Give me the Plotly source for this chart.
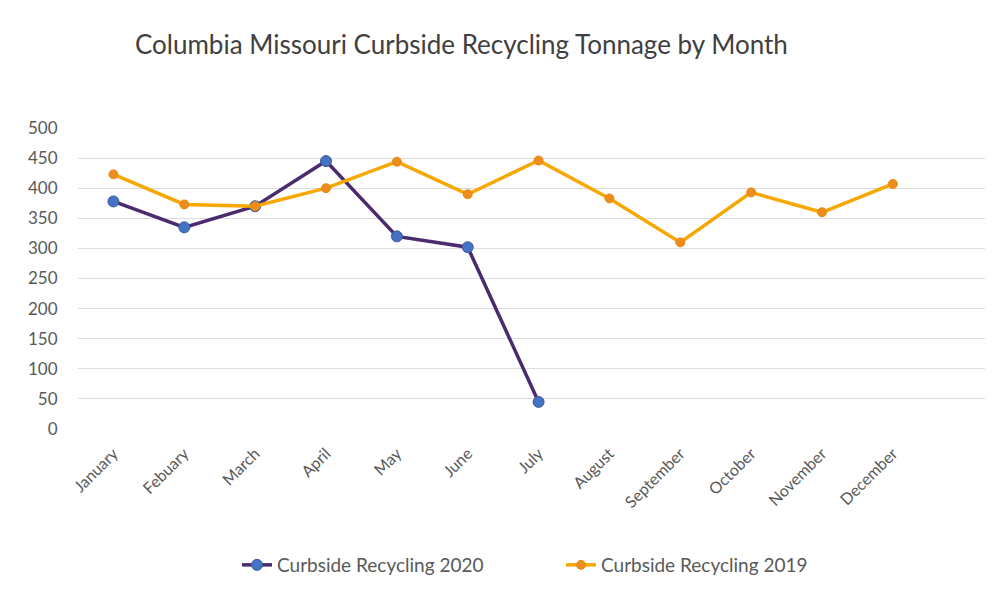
import plotly.graph_objects as go

months = ["January", "Febuary", "March", "April", "May", "June", "July",
          "August", "September", "October", "November", "December"]
recycling_2020 = [378, 335, 370, 445, 320, 302, 45]
recycling_2019 = [423, 373, 370, 400, 444, 390, 446, 383, 310, 393, 360, 407]
y_ticks = [0, 50, 100, 150, 200, 250, 300, 350, 400, 450, 500]

fig = go.Figure()
fig.add_trace(go.Scatter(
    x=months[:len(recycling_2020)], y=recycling_2020, mode="lines+markers",
    name="Curbside Recycling 2020",
    line=dict(color="#4B2A6E", width=3.5),
    marker=dict(color="#4472C4", size=11, line=dict(color="#3A5A9C", width=1)),
))
fig.add_trace(go.Scatter(
    x=months, y=recycling_2019, mode="lines+markers",
    name="Curbside Recycling 2019",
    line=dict(color="#F7A800", width=3.5),
    marker=dict(color="#EE8C1C", size=9, line=dict(color="#E88A1A", width=1)),
))

fig.update_layout(
    width=994, height=592,
    paper_bgcolor="white", plot_bgcolor="white",
    margin=dict(l=78, r=9, t=128, b=162),
    font=dict(family="Lato, Open Sans, sans-serif", color="#595959", size=16),
    title=dict(text="Columbia Missouri Curbside Recycling Tonnage by Month",
               x=135/994, xanchor="left", y=1-45/592, yanchor="middle",
               font=dict(size=26, color="#404040")),
    showlegend=True,
    legend=dict(orientation="h", x=(243-78-6)/907, xanchor="left",
                y=-(565-430)/302, yanchor="middle",
                font=dict(size=19, color="#595959"), entrywidth=279),
    xaxis=dict(type="category", categoryorder="array", categoryarray=months,
               range=[-0.5, 12.3], tickangle=-45, showgrid=False,
               showline=False, zeroline=False, ticks="outside", ticklen=8,
               tickcolor="white",
               tickfont=dict(size=16, color="#595959")),
    yaxis=dict(range=[0, 500], tickvals=y_ticks, showgrid=True,
               gridcolor="#DDDDDD", gridwidth=1, zeroline=False,
               showline=False, ticks="outside", ticklen=16, tickcolor="white",
               tickfont=dict(size=17, color="#595959")),
)
fig.write_html("out.html")
